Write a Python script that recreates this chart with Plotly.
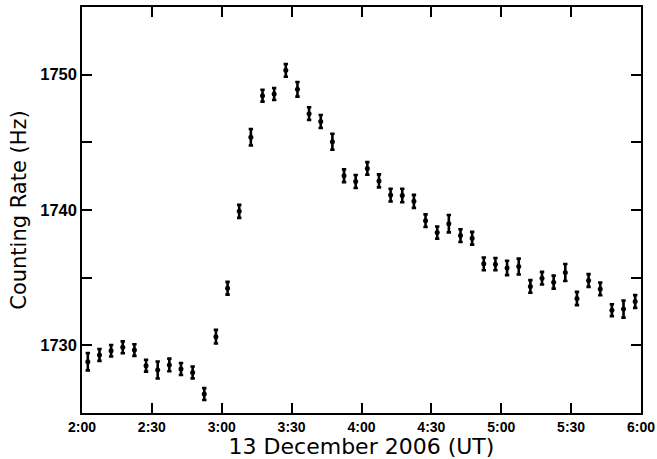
import plotly.graph_objects as go

# Bin centre times (UT) on 13 December 2006
times = [
    "02:02:30", "02:07:30", "02:12:30", "02:17:30", "02:22:30", "02:27:30",
    "02:32:30", "02:37:30", "02:42:30", "02:47:30", "02:52:30", "02:57:30",
    "03:02:30", "03:07:30", "03:12:30", "03:17:30", "03:22:30", "03:27:30",
    "03:32:30", "03:37:30", "03:42:30", "03:47:30", "03:52:30", "03:57:30",
    "04:02:30", "04:07:30", "04:12:30", "04:17:30", "04:22:30", "04:27:30",
    "04:32:30", "04:37:30", "04:42:30", "04:47:30", "04:52:30", "04:57:30",
    "05:02:30", "05:07:30", "05:12:30", "05:17:30", "05:22:30", "05:27:30",
    "05:32:30", "05:37:30", "05:42:30", "05:47:30", "05:52:30", "05:57:30",
]

# Counting rate (Hz)
rate = [
    1728.79, 1729.29, 1729.60, 1729.85, 1729.65, 1728.50,
    1728.18, 1728.55, 1728.25, 1728.00, 1726.40, 1730.64,
    1734.22, 1739.90, 1745.38, 1748.45, 1748.57, 1750.32,
    1748.92, 1747.12, 1746.54, 1745.04, 1742.53, 1742.11,
    1743.07, 1742.15, 1741.10, 1741.07, 1740.64, 1739.21,
    1738.33, 1738.99, 1738.11, 1737.91, 1736.02, 1736.00,
    1735.72, 1735.82, 1734.35, 1734.96, 1734.67, 1735.38,
    1733.46, 1734.79, 1734.17, 1732.60, 1732.68, 1733.24,
]

# 1-sigma errors (Hz)
rate_err = [
    0.64, 0.44, 0.43, 0.44, 0.43, 0.44,
    0.63, 0.47, 0.44, 0.44, 0.44, 0.50,
    0.47, 0.48, 0.61, 0.44, 0.44, 0.47,
    0.54, 0.47, 0.48, 0.59, 0.47, 0.48,
    0.47, 0.48, 0.47, 0.50, 0.48, 0.47,
    0.45, 0.64, 0.47, 0.47, 0.47, 0.45,
    0.53, 0.59, 0.47, 0.47, 0.48, 0.63,
    0.49, 0.47, 0.47, 0.44, 0.63, 0.47,
]

date = "2006-12-13"
x = [f"{date} {t}" for t in times]

x_ticks = ["02:00", "02:30", "03:00", "03:30", "04:00", "04:30", "05:00", "05:30", "06:00"]
x_tick_labels = ["2:00", "2:30", "3:00", "3:30", "4:00", "4:30", "5:00", "5:30", "6:00"]
y_ticks = [1725, 1730, 1735, 1740, 1745, 1750, 1755]
y_tick_labels = ["", "1730", "", "1740", "", "1750", ""]

fig = go.Figure()
fig.add_trace(go.Scatter(
    x=x, y=rate, mode="markers",
    marker=dict(color="black", size=5, symbol="circle"),
    error_y=dict(type="data", array=rate_err, visible=True,
                 color="black", thickness=2.6, width=2.2),
    showlegend=False,
))

axis_common = dict(
    showgrid=False, zeroline=False, showline=True, linecolor="black",
    linewidth=1.5, mirror="ticks", ticks="inside", ticklen=10,
    tickwidth=1.5, tickcolor="black", automargin=False,
)

fig.update_xaxes(
    type="date",
    range=[f"{date} 02:00", f"{date} 06:00"],
    tickvals=[f"{date} {t}" for t in x_ticks],
    ticktext=x_tick_labels,
    tickfont=dict(family="Liberation Sans", size=14, color="black", weight="bold"),
    title=dict(text="13 December 2006 (UT)",
               font=dict(family="DejaVu Sans", size=22, color="black"),
               standoff=2),
    **axis_common,
)
fig.update_yaxes(
    range=[1725, 1755],
    tickvals=y_ticks,
    ticktext=y_tick_labels,
    tickfont=dict(family="Liberation Sans", size=16.5, color="black", weight="bold"),
    title=dict(text="Counting Rate (Hz)",
               font=dict(family="DejaVu Sans", size=21, color="black"),
               standoff=8),
    **axis_common,
)

fig.update_layout(
    template="none",
    width=657, height=459,
    margin=dict(l=82, r=16, t=7, b=46),
    paper_bgcolor="white", plot_bgcolor="white",
)

fig.write_html(
    "out.html",
    config={"displayModeBar": False},
    post_script="document.body.style.margin='0';document.body.style.overflow='hidden';",
)
